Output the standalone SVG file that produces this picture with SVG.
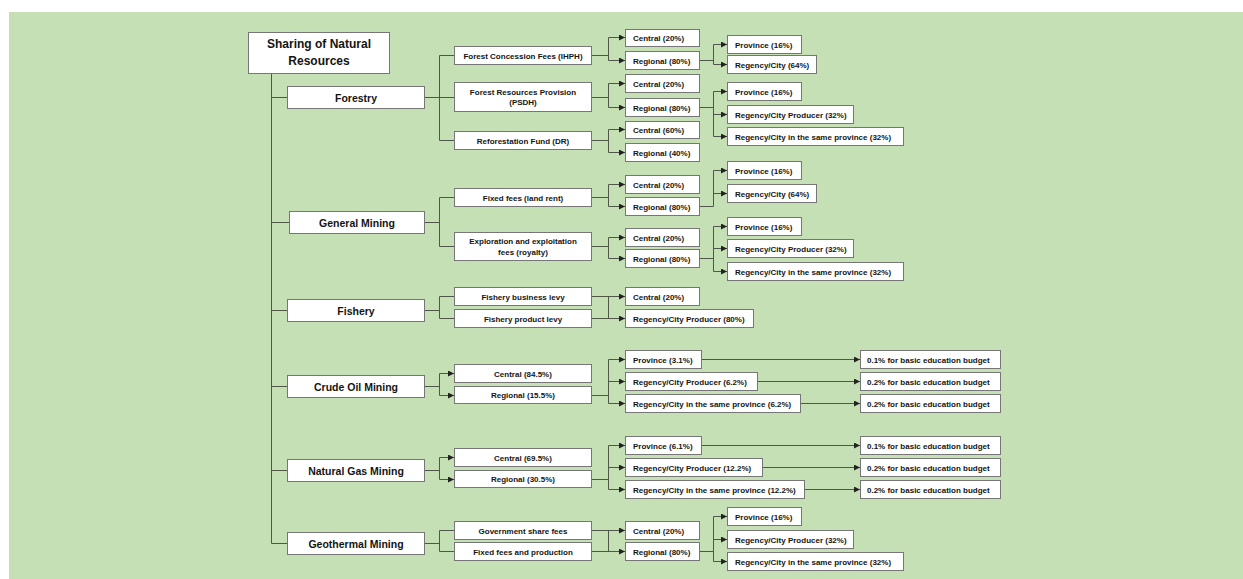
<svg xmlns="http://www.w3.org/2000/svg" width="1243" height="579" viewBox="0 0 1243 579">
<defs>
<marker id="ah" markerUnits="userSpaceOnUse" markerWidth="6" markerHeight="6" refX="6" refY="3" orient="auto">
<path d="M0,0 L6,3 L0,6 z" fill="#222"/>
</marker>
<style>
.b{fill:#fff;stroke:#767676;stroke-width:1}
.t{font-family:"Liberation Sans",Arial,sans-serif;font-weight:bold;font-size:8px;fill:#141414}
.m{text-anchor:middle}
.l1{font-size:10.5px}
.r{font-size:12px}
.c{fill:none;stroke:#4f5749;stroke-width:1}
.a{marker-end:url(#ah)}
</style>
</defs>
<rect x="9" y="12" width="1234" height="567" fill="#c5e0b4"/>

<g id="connectors">
<!-- trunk -->
<path class="c" d="M271.5,73 V543.5"/>
<path class="c" d="M271.5,97.5 H287 M271.5,222.5 H289 M271.5,310.5 H287 M271.5,386.5 H287 M271.5,470.5 H287 M271.5,543.5 H287"/>
<!-- level1 to level2 -->
<path class="c" d="M424,97.5 H439.5 M439.5,55.5 V140.5 M439.5,55.5 H454 M439.5,97.5 H454 M439.5,140.5 H454"/>
<path class="c" d="M424,222.5 H439.5 M439.5,197.5 V246.5 M439.5,197.5 H454 M439.5,246.5 H454"/>
<path class="c" d="M424,310.5 H439.5 M439.5,296.5 V318.5 M439.5,296.5 H454 M439.5,318.5 H454"/>
<path class="c" d="M424,386.5 H439.5 M439.5,373.5 V395.5"/>
<path class="c a" d="M439.5,373.5 H454"/>
<path class="c a" d="M439.5,395.5 H454"/>
<path class="c" d="M424,470.5 H439.5 M439.5,457.5 V479.5"/>
<path class="c a" d="M439.5,457.5 H454"/>
<path class="c a" d="M439.5,479.5 H454"/>
<path class="c" d="M424,543.5 H439.5 M439.5,530.5 V551.5 M439.5,530.5 H454 M439.5,551.5 H454"/>
<!-- level2 to level3 -->
<path class="c" d="M592,55.5 H608.5 M608.5,37.5 V60.5"/>
<path class="c a" d="M608.5,37.5 H625"/><path class="c a" d="M608.5,60.5 H625"/>
<path class="c" d="M592,97.5 H608.5 M608.5,83.5 V107.5"/>
<path class="c a" d="M608.5,83.5 H625"/><path class="c a" d="M608.5,107.5 H625"/>
<path class="c" d="M592,140.5 H608.5 M608.5,129.5 V152.5"/>
<path class="c a" d="M608.5,129.5 H625"/><path class="c a" d="M608.5,152.5 H625"/>
<path class="c" d="M592,197.5 H608.5 M608.5,184.5 V206.5"/>
<path class="c a" d="M608.5,184.5 H625"/><path class="c a" d="M608.5,206.5 H625"/>
<path class="c" d="M592,246.5 H608.5 M608.5,237.5 V258.5"/>
<path class="c a" d="M608.5,237.5 H625"/><path class="c a" d="M608.5,258.5 H625"/>
<path class="c" d="M608.5,296.5 V318.5"/>
<path class="c a" d="M592,296.5 H625"/><path class="c a" d="M592,318.5 H625"/>
<path class="c" d="M592,395.5 H608.5 M608.5,359.5 V403.5"/>
<path class="c a" d="M608.5,359.5 H625"/><path class="c a" d="M608.5,381.5 H625"/><path class="c a" d="M608.5,403.5 H625"/>
<path class="c" d="M592,479.5 H608.5 M608.5,445.5 V489.5"/>
<path class="c a" d="M608.5,445.5 H625"/><path class="c a" d="M608.5,467.5 H625"/><path class="c a" d="M608.5,489.5 H625"/>
<path class="c" d="M608.5,530.5 V551.5"/>
<path class="c a" d="M592,530.5 H625"/><path class="c a" d="M592,551.5 H625"/>
<!-- education -->
<path class="c a" d="M701,359.5 H860"/><path class="c a" d="M757,381.5 H860"/><path class="c a" d="M800,403.5 H860"/>
<path class="c a" d="M701,445.5 H860"/><path class="c a" d="M762,467.5 H860"/><path class="c a" d="M804,489.5 H860"/>
<!-- level3 to level4 -->
<path class="c" d="M699,60.5 H713.5 M713.5,44.5 V64.5"/>
<path class="c a" d="M713.5,44.5 H727"/><path class="c a" d="M713.5,64.5 H727"/>
<path class="c" d="M699,107.5 H713.5 M713.5,91.5 V136.5"/>
<path class="c a" d="M713.5,91.5 H727"/><path class="c a" d="M713.5,114.5 H727"/><path class="c a" d="M713.5,136.5 H727"/>
<path class="c" d="M699,206.5 H713.5 M713.5,170.5 V206.5"/>
<path class="c a" d="M713.5,170.5 H727"/><path class="c a" d="M713.5,193.5 H727"/>
<path class="c" d="M699,258.5 H713.5 M713.5,226.5 V271.5"/>
<path class="c a" d="M713.5,226.5 H727"/><path class="c a" d="M713.5,248.5 H727"/><path class="c a" d="M713.5,271.5 H727"/>
<path class="c" d="M699,551.5 H713.5 M713.5,516.5 V561.5"/>
<path class="c a" d="M713.5,516.5 H727"/><path class="c a" d="M713.5,539.5 H727"/><path class="c a" d="M713.5,561.5 H727"/>
</g>

<g id="root"><rect class="b" x="248.5" y="32.5" width="141" height="41"/>
<text class="t r m" x="319" y="48">Sharing of Natural</text><text class="t r m" x="319" y="65">Resources</text></g>

<g id="forestry"><rect class="b" x="287.5" y="86.5" width="137" height="22"/><text class="t l1 m" x="356" y="101.5">Forestry</text></g>
<g id="general-mining"><rect class="b" x="289.5" y="211.5" width="135" height="22"/><text class="t l1 m" x="357" y="226.5">General Mining</text></g>
<g id="fishery"><rect class="b" x="287.5" y="299.5" width="137" height="22"/><text class="t l1 m" x="356" y="314.5">Fishery</text></g>
<g id="crude-oil"><rect class="b" x="287.5" y="375.5" width="137" height="22"/><text class="t l1 m" x="356" y="390.5">Crude Oil Mining</text></g>
<g id="natural-gas"><rect class="b" x="287.5" y="459.5" width="137" height="22"/><text class="t l1 m" x="356" y="474.5">Natural Gas Mining</text></g>
<g id="geothermal"><rect class="b" x="287.5" y="532.5" width="137" height="22"/><text class="t l1 m" x="356" y="547.5">Geothermal Mining</text></g>

<!-- level 2 -->
<g id="ihph"><rect class="b" x="454.5" y="46.5" width="137" height="18"/><text class="t m" x="523" y="58.5">Forest Concession Fees (IHPH)</text></g>
<g id="psdh"><rect class="b" x="454.5" y="82.5" width="137" height="29"/><text class="t m" x="523" y="94.5">Forest Resources Provision</text><text class="t m" x="523" y="105">(PSDH)</text></g>
<g id="dr"><rect class="b" x="454.5" y="131.5" width="137" height="18"/><text class="t m" x="523" y="143.5">Reforestation Fund (DR)</text></g>
<g id="land-rent"><rect class="b" x="454.5" y="188.5" width="137" height="18"/><text class="t m" x="523" y="200.5">Fixed fees (land rent)</text></g>
<g id="royalty"><rect class="b" x="454.5" y="232.5" width="137" height="28"/><text class="t m" x="523" y="243.5">Exploration and exploitation</text><text class="t m" x="523" y="254.5">fees (royalty)</text></g>
<g id="fish-business"><rect class="b" x="454.5" y="287.5" width="137" height="18"/><text class="t m" x="523" y="299.5">Fishery business levy</text></g>
<g id="fish-product"><rect class="b" x="454.5" y="309.5" width="137" height="18"/><text class="t m" x="523" y="321.5">Fishery product levy</text></g>
<g id="oil-central"><rect class="b" x="454.5" y="364.5" width="137" height="18"/><text class="t m" x="523" y="376.5">Central (84.5%)</text></g>
<g id="oil-regional"><rect class="b" x="454.5" y="386.5" width="137" height="17"/><text class="t m" x="523" y="398">Regional (15.5%)</text></g>
<g id="gas-central"><rect class="b" x="454.5" y="448.5" width="137" height="18"/><text class="t m" x="523" y="460.5">Central (69.5%)</text></g>
<g id="gas-regional"><rect class="b" x="454.5" y="470.5" width="137" height="17"/><text class="t m" x="523" y="482">Regional (30.5%)</text></g>
<g id="geo-share"><rect class="b" x="454.5" y="521.5" width="137" height="18"/><text class="t m" x="523" y="533.5">Government share fees</text></g>
<g id="geo-fixed"><rect class="b" x="454.5" y="542.5" width="137" height="18"/><text class="t m" x="523" y="554.5">Fixed fees and production</text></g>

<!-- level 3 -->
<g id="ihph-central"><rect class="b" x="625.5" y="29.5" width="74" height="17"/><text class="t" x="633" y="41">Central (20%)</text></g>
<g id="ihph-regional"><rect class="b" x="625.5" y="51.5" width="74" height="18"/><text class="t" x="633" y="63.5">Regional (80%)</text></g>
<g id="psdh-central"><rect class="b" x="625.5" y="74.5" width="74" height="18"/><text class="t" x="633" y="86.5">Central (20%)</text></g>
<g id="psdh-regional"><rect class="b" x="625.5" y="98.5" width="74" height="18"/><text class="t" x="633" y="110.5">Regional (80%)</text></g>
<g id="dr-central"><rect class="b" x="625.5" y="121.5" width="74" height="17"/><text class="t" x="633" y="133">Central (60%)</text></g>
<g id="dr-regional"><rect class="b" x="625.5" y="143.5" width="74" height="18"/><text class="t" x="633" y="155.5">Regional (40%)</text></g>
<g id="rent-central"><rect class="b" x="625.5" y="175.5" width="74" height="18"/><text class="t" x="633" y="187.5">Central (20%)</text></g>
<g id="rent-regional"><rect class="b" x="625.5" y="197.5" width="74" height="18"/><text class="t" x="633" y="209.5">Regional (80%)</text></g>
<g id="roy-central"><rect class="b" x="625.5" y="228.5" width="74" height="18"/><text class="t" x="633" y="240.5">Central (20%)</text></g>
<g id="roy-regional"><rect class="b" x="625.5" y="249.5" width="74" height="18"/><text class="t" x="633" y="261.5">Regional (80%)</text></g>
<g id="fish-central"><rect class="b" x="625.5" y="287.5" width="74" height="18"/><text class="t" x="633" y="299.5">Central (20%)</text></g>
<g id="fish-producer"><rect class="b" x="625.5" y="309.5" width="128" height="18"/><text class="t" x="633" y="321.5">Regency/City Producer (80%)</text></g>
<g id="oil-province"><rect class="b" x="625.5" y="350.5" width="76" height="18"/><text class="t" x="633" y="362.5">Province (3.1%)</text></g>
<g id="oil-producer"><rect class="b" x="625.5" y="372.5" width="132" height="18"/><text class="t" x="633" y="384.5">Regency/City Producer (6.2%)</text></g>
<g id="oil-same"><rect class="b" x="625.5" y="394.5" width="175" height="18"/><text class="t" x="633" y="406.5">Regency/City in the same province (6.2%)</text></g>
<g id="gas-province"><rect class="b" x="625.5" y="436.5" width="76" height="18"/><text class="t" x="633" y="448.5">Province (6.1%)</text></g>
<g id="gas-producer"><rect class="b" x="625.5" y="458.5" width="137" height="18"/><text class="t" x="633" y="470.5">Regency/City Producer (12.2%)</text></g>
<g id="gas-same"><rect class="b" x="625.5" y="480.5" width="179" height="18"/><text class="t" x="633" y="492.5">Regency/City in the same province (12.2%)</text></g>
<g id="geo-central"><rect class="b" x="625.5" y="521.5" width="74" height="18"/><text class="t" x="633" y="533.5">Central (20%)</text></g>
<g id="geo-regional"><rect class="b" x="625.5" y="542.5" width="74" height="18"/><text class="t" x="633" y="554.5">Regional (80%)</text></g>

<!-- education -->
<g id="oil-edu1"><rect class="b" x="860.5" y="350.5" width="140" height="18"/><text class="t" x="867" y="362.5">0.1% for basic education budget</text></g>
<g id="oil-edu2"><rect class="b" x="860.5" y="372.5" width="140" height="18"/><text class="t" x="867" y="384.5">0.2% for basic education budget</text></g>
<g id="oil-edu3"><rect class="b" x="860.5" y="394.5" width="140" height="18"/><text class="t" x="867" y="406.5">0.2% for basic education budget</text></g>
<g id="gas-edu1"><rect class="b" x="860.5" y="436.5" width="140" height="18"/><text class="t" x="867" y="448.5">0.1% for basic education budget</text></g>
<g id="gas-edu2"><rect class="b" x="860.5" y="458.5" width="140" height="18"/><text class="t" x="867" y="470.5">0.2% for basic education budget</text></g>
<g id="gas-edu3"><rect class="b" x="860.5" y="480.5" width="140" height="18"/><text class="t" x="867" y="492.5">0.2% for basic education budget</text></g>

<!-- level 4 -->
<g id="ihph-province"><rect class="b" x="727.5" y="35.5" width="74" height="18"/><text class="t" x="735" y="47.5">Province (16%)</text></g>
<g id="ihph-city"><rect class="b" x="727.5" y="55.5" width="89" height="18"/><text class="t" x="735" y="67.5">Regency/City (64%)</text></g>
<g id="psdh-province"><rect class="b" x="727.5" y="82.5" width="74" height="18"/><text class="t" x="735" y="94.5">Province (16%)</text></g>
<g id="psdh-producer"><rect class="b" x="727.5" y="105.5" width="126" height="18"/><text class="t" x="735" y="117.5">Regency/City Producer (32%)</text></g>
<g id="psdh-same"><rect class="b" x="727.5" y="127.5" width="176" height="18"/><text class="t" x="735" y="139.5">Regency/City in the same province (32%)</text></g>
<g id="rent-province"><rect class="b" x="727.5" y="161.5" width="74" height="18"/><text class="t" x="735" y="173.5">Province (16%)</text></g>
<g id="rent-city"><rect class="b" x="727.5" y="184.5" width="89" height="18"/><text class="t" x="735" y="196.5">Regency/City (64%)</text></g>
<g id="roy-province"><rect class="b" x="727.5" y="217.5" width="74" height="18"/><text class="t" x="735" y="229.5">Province (16%)</text></g>
<g id="roy-producer"><rect class="b" x="727.5" y="239.5" width="126" height="18"/><text class="t" x="735" y="251.5">Regency/City Producer (32%)</text></g>
<g id="roy-same"><rect class="b" x="727.5" y="262.5" width="176" height="18"/><text class="t" x="735" y="274.5">Regency/City in the same province (32%)</text></g>
<g id="geo-province"><rect class="b" x="727.5" y="507.5" width="74" height="18"/><text class="t" x="735" y="519.5">Province (16%)</text></g>
<g id="geo-producer"><rect class="b" x="727.5" y="530.5" width="126" height="18"/><text class="t" x="735" y="542.5">Regency/City Producer (32%)</text></g>
<g id="geo-same"><rect class="b" x="727.5" y="552.5" width="176" height="18"/><text class="t" x="735" y="564.5">Regency/City in the same province (32%)</text></g>
</svg>
